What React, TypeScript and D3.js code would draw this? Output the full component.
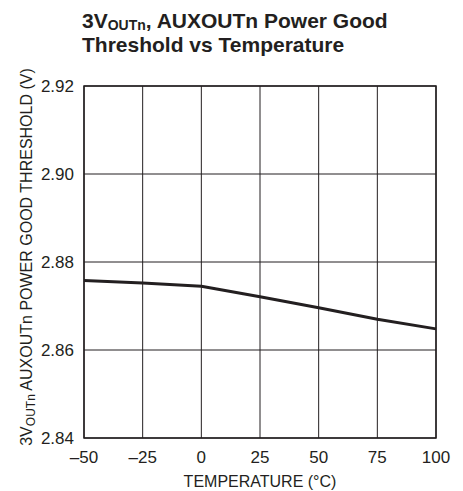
import React from "react";
import * as d3 from "d3";

const temps = [-50, -25, 0, 25, 50, 75, 100];
const threshold = [2.8758, 2.8752, 2.8745, 2.8721, 2.8696, 2.867, 2.8648];
const xTicks = [-50, -25, 0, 25, 50, 75, 100];
const yTicks = [2.84, 2.86, 2.88, 2.9, 2.92];

const FONT = "'Liberation Sans Narrow', 'Arial Narrow', 'Liberation Sans', sans-serif";

export default function App() {
  const W = 463, H = 491;
  const L = 84, R = 436, T = 86, B = 438;
  const x = d3.scaleLinear().domain([-50, 100]).range([L, R]);
  const y = d3.scaleLinear().domain([2.84, 2.92]).range([B, T]);
  const line = d3.line<number>().x((_, i) => x(temps[i])).y((d) => y(d));
  const fmtX = (v: number) => (v < 0 ? "\u2013" + Math.abs(v) : String(v));
  return (
    <svg width={W} height={H} style={{ position: "absolute", left: 0, top: 0 }}>
      <rect x={0} y={0} width={W} height={H} fill="#fff" />
      <text x={82} y={28} fontFamily={FONT} fontWeight="bold" fontSize={21} fill="#231f20">
        3V<tspan fontSize={14} dy={2}>OUTn</tspan>
        <tspan dy={-2}>, AUXOUTn Power Good</tspan>
      </text>
      <text x={82} y={52} fontFamily={FONT} fontWeight="bold" fontSize={21} fill="#231f20">
        Threshold vs Temperature
      </text>
      {xTicks.map((t) => (
        <line key={"gx" + t} x1={x(t)} x2={x(t)} y1={T} y2={B} stroke="#231f20" strokeWidth={1} />
      ))}
      {yTicks.map((t) => (
        <line key={"gy" + t} x1={L} x2={R} y1={y(t)} y2={y(t)} stroke="#231f20" strokeWidth={1} />
      ))}
      <rect x={L} y={T} width={R - L} height={B - T} fill="none" stroke="#231f20" strokeWidth={1.5} />
      <path d={line(threshold) || ""} fill="none" stroke="#231f20" strokeWidth={3} strokeLinejoin="round" />
      {yTicks.map((t) => (
        <text key={"ly" + t} x={L - 10} y={y(t) + 6} textAnchor="end" fontFamily={FONT} fontSize={17} fill="#231f20">
          {t.toFixed(2)}
        </text>
      ))}
      {xTicks.map((t) => (
        <text key={"lx" + t} x={x(t)} y={463} textAnchor="middle" fontFamily={FONT} fontSize={17} fill="#231f20">
          {fmtX(t)}
        </text>
      ))}
      <text x={(L + R) / 2} y={487} textAnchor="middle" fontFamily={FONT} fontSize={16} fill="#231f20">
        TEMPERATURE (°C)
      </text>
      <text
        transform={`translate(32, 257) rotate(-90)`}
        textAnchor="middle"
        fontFamily={FONT}
        fontSize={16}
        fill="#231f20"
      >
        3V<tspan fontSize={12} dy={3}>OUTn</tspan>
        <tspan dy={-3}> AUXOUTn POWER GOOD THRESHOLD (V)</tspan>
      </text>
    </svg>
  );
}
